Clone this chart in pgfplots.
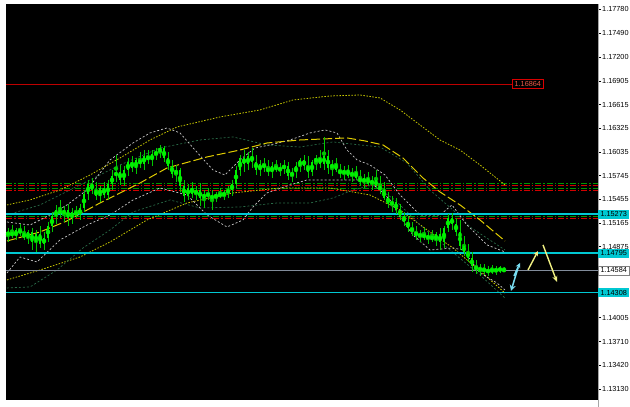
\documentclass[border=0pt]{standalone}
\usepackage{fontspec}
\setmainfont{Liberation Sans}
\usepackage{pgfplots}
\usepackage{pgfplotstable}
\pgfplotsset{compat=1.18}
\usetikzlibrary{arrows.meta}

\definecolor{mtcyan}{RGB}{0,200,210}
\definecolor{mtred}{RGB}{190,0,0}
\definecolor{mtbody}{RGB}{0,240,0}
\definecolor{mtwick}{RGB}{0,200,0}
\definecolor{mtyel}{RGB}{200,200,0}
\definecolor{mtma}{RGB}{225,205,0}
\definecolor{mtband}{RGB}{200,200,200}
\definecolor{mtdkgreen}{RGB}{40,105,70}
\definecolor{ddgreen}{RGB}{0,150,0}
\definecolor{ddred}{RGB}{210,0,0}
\definecolor{lcyan}{RGB}{120,220,240}
\definecolor{lyel}{RGB}{240,240,130}
\definecolor{pricegray}{RGB}{130,140,155}

% EURUSD candles: x o h l c
\pgfplotstableread{
x o h l c
8 1.15017 1.15103 1.14931 1.15054
12 1.15054 1.15139 1.14980 1.15005
16 1.15005 1.15103 1.14956 1.15078
20 1.15078 1.15152 1.15005 1.15041
24 1.15041 1.15127 1.14956 1.14980
28 1.14980 1.15078 1.14907 1.15054
32 1.15054 1.15103 1.14833 1.14931
36 1.14931 1.15078 1.14809 1.15029
40 1.15029 1.15127 1.14858 1.14907
44 1.14907 1.15054 1.14833 1.14980
48 1.14980 1.15176 1.14931 1.15127
52 1.15127 1.15299 1.15054 1.15250
56 1.15250 1.15385 1.15152 1.15323
60 1.15323 1.15446 1.15225 1.15274
64 1.15274 1.15372 1.15176 1.15323
68 1.15323 1.15397 1.15127 1.15225
72 1.15225 1.15348 1.15152 1.15299
76 1.15299 1.15372 1.15225 1.15262
80 1.15262 1.15397 1.15201 1.15348
84 1.15348 1.15568 1.15299 1.15519
88 1.15519 1.15691 1.15446 1.15642
92 1.15642 1.15715 1.15519 1.15568
96 1.15568 1.15666 1.15446 1.15495
100 1.15495 1.15617 1.15421 1.15593
104 1.15593 1.15666 1.15470 1.15507
108 1.15507 1.15691 1.15446 1.15642
112 1.15642 1.15813 1.15568 1.15740
116 1.15740 1.15997 1.15666 1.15789
120 1.15789 1.15875 1.15630 1.15691
124 1.15691 1.15862 1.15617 1.15813
128 1.15813 1.15960 1.15740 1.15911
132 1.15911 1.15985 1.15789 1.15838
136 1.15838 1.15960 1.15764 1.15936
140 1.15936 1.16034 1.15838 1.15887
144 1.15887 1.16058 1.15813 1.15985
148 1.15985 1.16058 1.15887 1.15936
152 1.15936 1.16058 1.15862 1.16009
156 1.16009 1.16083 1.15936 1.16034
160 1.16034 1.16120 1.15960 1.16083
164 1.16083 1.16107 1.15911 1.15960
168 1.15960 1.16034 1.15813 1.15862
172 1.15862 1.15936 1.15715 1.15764
176 1.15764 1.15875 1.15666 1.15813
180 1.15813 1.15838 1.15544 1.15617
184 1.15617 1.15691 1.15421 1.15495
188 1.15495 1.15642 1.15446 1.15593
192 1.15593 1.15666 1.15470 1.15519
196 1.15519 1.15617 1.15446 1.15568
200 1.15568 1.15654 1.15372 1.15470
204 1.15470 1.15568 1.15348 1.15519
208 1.15519 1.15593 1.15446 1.15495
212 1.15495 1.15568 1.15323 1.15470
216 1.15470 1.15544 1.15421 1.15519
220 1.15519 1.15593 1.15470 1.15495
224 1.15495 1.15568 1.15446 1.15544
228 1.15544 1.15617 1.15470 1.15568
232 1.15568 1.15691 1.15495 1.15642
236 1.15642 1.15862 1.15593 1.15813
240 1.15813 1.15997 1.15740 1.15960
244 1.15960 1.16058 1.15789 1.15887
248 1.15887 1.16034 1.15813 1.15985
252 1.15985 1.16083 1.15838 1.15911
256 1.15911 1.15997 1.15752 1.15813
260 1.15813 1.15936 1.15740 1.15887
264 1.15887 1.15960 1.15789 1.15838
268 1.15838 1.15936 1.15740 1.15789
272 1.15789 1.15911 1.15715 1.15862
276 1.15862 1.15936 1.15789 1.15813
280 1.15813 1.15899 1.15740 1.15838
284 1.15838 1.15936 1.15764 1.15862
288 1.15862 1.15911 1.15691 1.15740
292 1.15740 1.15838 1.15666 1.15789
296 1.15789 1.15911 1.15715 1.15862
300 1.15862 1.15960 1.15789 1.15936
304 1.15936 1.15997 1.15813 1.15862
308 1.15862 1.15985 1.15715 1.15789
312 1.15789 1.15936 1.15740 1.15911
316 1.15911 1.15997 1.15813 1.15960
320 1.15960 1.16058 1.15838 1.15887
324 1.15887 1.16218 1.15813 1.15985
328 1.15985 1.16058 1.15764 1.15838
332 1.15838 1.15936 1.15740 1.15887
336 1.15887 1.15960 1.15789 1.15813
340 1.15813 1.15887 1.15715 1.15764
344 1.15764 1.15862 1.15691 1.15813
348 1.15813 1.15875 1.15715 1.15740
352 1.15740 1.15838 1.15666 1.15789
356 1.15789 1.15862 1.15691 1.15715
360 1.15715 1.15813 1.15617 1.15666
364 1.15666 1.15764 1.15593 1.15715
368 1.15715 1.15789 1.15617 1.15642
372 1.15642 1.15740 1.15568 1.15691
376 1.15691 1.15813 1.15593 1.15617
380 1.15617 1.15740 1.15519 1.15568
384 1.15568 1.15666 1.15446 1.15470
388 1.15470 1.15544 1.15348 1.15397
392 1.15397 1.15495 1.15299 1.15421
396 1.15421 1.15470 1.15274 1.15323
400 1.15323 1.15397 1.15201 1.15250
404 1.15250 1.15299 1.15127 1.15176
408 1.15176 1.15250 1.15054 1.15103
412 1.15103 1.15176 1.15005 1.15054
416 1.15054 1.15127 1.14956 1.15005
420 1.15005 1.15078 1.14931 1.15029
424 1.15029 1.15103 1.14956 1.14980
428 1.14980 1.15054 1.14907 1.15005
432 1.15005 1.15078 1.14931 1.14956
436 1.14956 1.15054 1.14882 1.15029
440 1.15029 1.15103 1.14833 1.14931
444 1.14931 1.15127 1.14858 1.15103
448 1.15103 1.15274 1.15054 1.15225
452 1.15225 1.15287 1.15078 1.15152
456 1.15152 1.15225 1.15005 1.15054
460 1.15054 1.15201 1.14833 1.14882
464 1.14882 1.15005 1.14760 1.14809
468 1.14809 1.14907 1.14686 1.14735
472 1.14735 1.14809 1.14564 1.14637
476 1.14637 1.14711 1.14539 1.14588
480 1.14588 1.14662 1.14515 1.14613
484 1.14613 1.14662 1.14527 1.14564
488 1.14564 1.14637 1.14515 1.14588
492 1.14588 1.14649 1.14539 1.14576
496 1.14576 1.14637 1.14527 1.14600
500 1.14600 1.14637 1.14551 1.14588
504 1.14588 1.14625 1.14564 1.14584
}\candles

\begin{document}
\begin{tikzpicture}
\useasboundingbox (-6pt,-7pt) rectangle (624pt,400pt);
\begin{axis}[
    at={(0pt,0pt)}, anchor=south west,
    scale only axis, width=592pt, height=396pt,
    xmin=6, xmax=598, ymin=1.12995, ymax=1.17847,
    axis background/.style={fill=black},
    axis x line=none, axis y line*=right,
    y axis line style={draw=gray!70, line width=0.8pt, -},
    clip mode=individual,
    ytick={1.17780,1.17490,1.17200,1.16905,1.16615,1.16325,1.16035,1.15745,1.15455,1.15165,1.14875,1.14005,1.13710,1.13420,1.13130},
    yticklabels={1.17780,1.17490,1.17200,1.16905,1.16615,1.16325,1.16035,1.15745,1.15455,1.15165,1.14875,1.14005,1.13710,1.13420,1.13130},
    tick align=outside, major tick length=3pt,
    ytick style={draw=black, line width=0.4pt},
    yticklabel style={font=\fontsize{7.3}{8}\selectfont, text=black, inner sep=0pt, anchor=west},
    yticklabel shift=1pt,
  ]
  % dash-dot levels
  \addplot[ddgreen, line width=0.8pt, dash pattern=on 6pt off 2pt on 1.5pt off 2pt] coordinates {(6,1.15650) (598,1.15650)};
  \addplot[ddred, line width=0.8pt, dash pattern=on 6pt off 2pt on 1.5pt off 2pt] coordinates {(6,1.15626) (598,1.15626)};
  \addplot[ddgreen, line width=0.8pt, dash pattern=on 6pt off 2pt on 1.5pt off 2pt] coordinates {(6,1.15593) (598,1.15593)};
  \addplot[ddred, line width=0.8pt, dash pattern=on 6pt off 2pt on 1.5pt off 2pt] coordinates {(6,1.15568) (598,1.15568)};
  \addplot[ddgreen, line width=0.8pt, dash pattern=on 6pt off 2pt on 1.5pt off 2pt] coordinates {(6,1.15241) (598,1.15241)};
  \addplot[ddred, line width=0.8pt, dash pattern=on 6pt off 2pt on 1.5pt off 2pt] coordinates {(6,1.15217) (598,1.15217)};

  % bands
  \addplot[mtyel, line width=0.8pt, dash pattern=on 1.5pt off 1.5pt] coordinates {
    (7,1.15385) (30,1.15446) (60,1.15568) (90,1.15752) (120,1.15960) (150,1.16181)
    (177,1.16340) (220,1.16463) (260,1.16549) (293,1.16671) (330,1.16720) (360,1.16732)
    (380,1.16696) (400,1.16549) (420,1.16365) (440,1.16181) (460,1.16058) (480,1.15875) (505,1.15630)};
  \addplot[mtyel, line width=0.8pt, dash pattern=on 1.5pt off 1.5pt] coordinates {
    (7,1.14466) (40,1.14588) (80,1.14747) (110,1.14931) (147,1.15201) (187,1.15409)
    (233,1.15532) (280,1.15593) (330,1.15593) (370,1.15507) (400,1.15323) (430,1.15054)
    (453,1.14858) (487,1.14502) (505,1.14306)};
  \addplot[mtdkgreen, line width=0.7pt, dash pattern=on 2pt off 2pt] coordinates {
    (7,1.15262) (40,1.15385) (80,1.15630) (120,1.15875) (160,1.16083) (200,1.16181)
    (233,1.16218) (267,1.16120) (300,1.16095) (333,1.16157) (360,1.16120) (380,1.16095)
    (407,1.15899) (430,1.15568) (453,1.15323) (470,1.15115) (505,1.14833)};
  \addplot[mtdkgreen, line width=0.7pt, dash pattern=on 2pt off 2pt] coordinates {
    (7,1.14368) (30,1.14380) (57,1.14588) (83,1.14858) (110,1.15078) (133,1.15299)
    (170,1.15446) (200,1.15348) (240,1.15360) (277,1.15409) (310,1.15409) (333,1.15470)
    (353,1.15568) (373,1.15630) (395,1.15446) (420,1.15139) (450,1.14833) (480,1.14527) (505,1.14245)};
  \addplot[mtband, line width=0.7pt, dash pattern=on 2pt off 2pt] coordinates {
    (7,1.15176) (30,1.15139) (50,1.15262) (67,1.15385) (87,1.15568) (110,1.15936)
    (133,1.16144) (150,1.16267) (167,1.16328) (180,1.16267) (195,1.16058) (213,1.15813)
    (225,1.15752) (240,1.15936) (255,1.16083) (270,1.16120) (290,1.16181) (310,1.16267)
    (325,1.16304) (337,1.16267) (347,1.16058) (357,1.15936) (370,1.15875) (385,1.15752)
    (400,1.15507) (420,1.15262) (440,1.15262) (452,1.15385) (467,1.15139) (487,1.14895) (505,1.14809)};
  \addplot[mtband, line width=0.7pt, dash pattern=on 2pt off 2pt] coordinates {
    (7,1.14551) (20,1.14747) (37,1.14686) (60,1.14956) (87,1.15139) (110,1.15262)
    (133,1.15446) (160,1.15593) (187,1.15507) (207,1.15262) (227,1.15115) (243,1.15201)
    (253,1.15360) (267,1.15532) (290,1.15630) (307,1.15691) (333,1.15691) (367,1.15691)
    (380,1.15568) (390,1.15446) (400,1.15238) (413,1.15017) (430,1.14833) (453,1.14858)
    (463,1.14833) (480,1.14551) (497,1.14429) (505,1.14343)};
  \addplot[mtma, line width=1pt, dash pattern=on 9pt off 3pt] coordinates {
    (7,1.14943) (40,1.15054) (67,1.15189) (100,1.15409) (140,1.15654) (167,1.15838)
    (207,1.15973) (240,1.16058) (267,1.16144) (300,1.16181) (347,1.16206) (365,1.16169)
    (383,1.16120) (403,1.15960) (423,1.15715) (440,1.15544) (460,1.15385) (480,1.15201) (505,1.14943)};

  % horizontal levels
  \addplot[mtred, line width=0.9pt] coordinates {(6,1.16864) (512,1.16864)};
  \addplot[mtcyan, line width=1.3pt] coordinates {(6,1.15273) (598,1.15273)};
  \addplot[mtcyan, line width=1.3pt] coordinates {(6,1.14795) (598,1.14795)};
  \addplot[mtcyan, line width=1.3pt] coordinates {(6,1.14308) (598,1.14308)};
  \addplot[pricegray, line width=0.8pt] coordinates {(6,1.14584) (598,1.14584)};

  % candles: wicks, then bodies
  \addplot[only marks, mark=none, mtwick,
    error bars/.cd, y dir=both, y explicit, error mark=none,
    error bar style={line width=0.8pt, mtwick}]
    table[x=x, y expr=(\thisrow{h}+\thisrow{l})/2, y error expr=(\thisrow{h}-\thisrow{l})/2] {\candles};
  \addplot[only marks, mark=none, mtbody,
    error bars/.cd, y dir=both, y explicit, error mark=none,
    error bar style={line width=2.4pt, mtbody}]
    table[x=x, y expr=(\thisrow{o}+\thisrow{c})/2, y error expr={max(abs(\thisrow{o}-\thisrow{c})/2,0.00002)}] {\candles};

  % arrows
  \addplot[lcyan, line width=1.5pt, -{Stealth[length=5pt,width=5pt]}] coordinates {(514,1.14515) (520,1.14674)};
  \addplot[lcyan, line width=1.5pt, -{Stealth[length=6pt,width=6pt]}] coordinates {(518,1.14613) (511,1.14331)};
  \addplot[lyel, line width=1.4pt, -{Stealth[length=5pt,width=5pt]}] coordinates {(528,1.14588) (538,1.14821)};
  \addplot[lyel, line width=1.4pt, -{Stealth[length=6pt,width=5pt]}] coordinates {(543,1.14895) (557,1.14441)};

  % price labels
  \tikzset{plabel/.style={anchor=west, font=\fontsize{7.3}{8}\selectfont, inner xsep=1.5pt, inner ysep=0.5pt, minimum height=9pt, minimum width=31pt}}
  \node[plabel, draw=red!85!black, fill=black, text={rgb,255:red,235;green,90;blue,70}, line width=0.6pt] at (axis cs:512,1.16864) {1.16864};
  \node[plabel, fill=mtcyan, text=black] at (axis cs:598,1.15273) {1.15273};
  \node[plabel, fill=mtcyan, text=black] at (axis cs:598,1.14795) {1.14795};
  \node[plabel, fill=white, draw=gray, line width=0.4pt, text=black] at (axis cs:598,1.14584) {1.14584};
  \node[plabel, fill=mtcyan, text=black] at (axis cs:598,1.14308) {1.14308};
\end{axis}
\draw[gray!70, line width=0.8pt] (592pt,-7pt) -- (592pt,0pt);
\end{tikzpicture}
\end{document}
